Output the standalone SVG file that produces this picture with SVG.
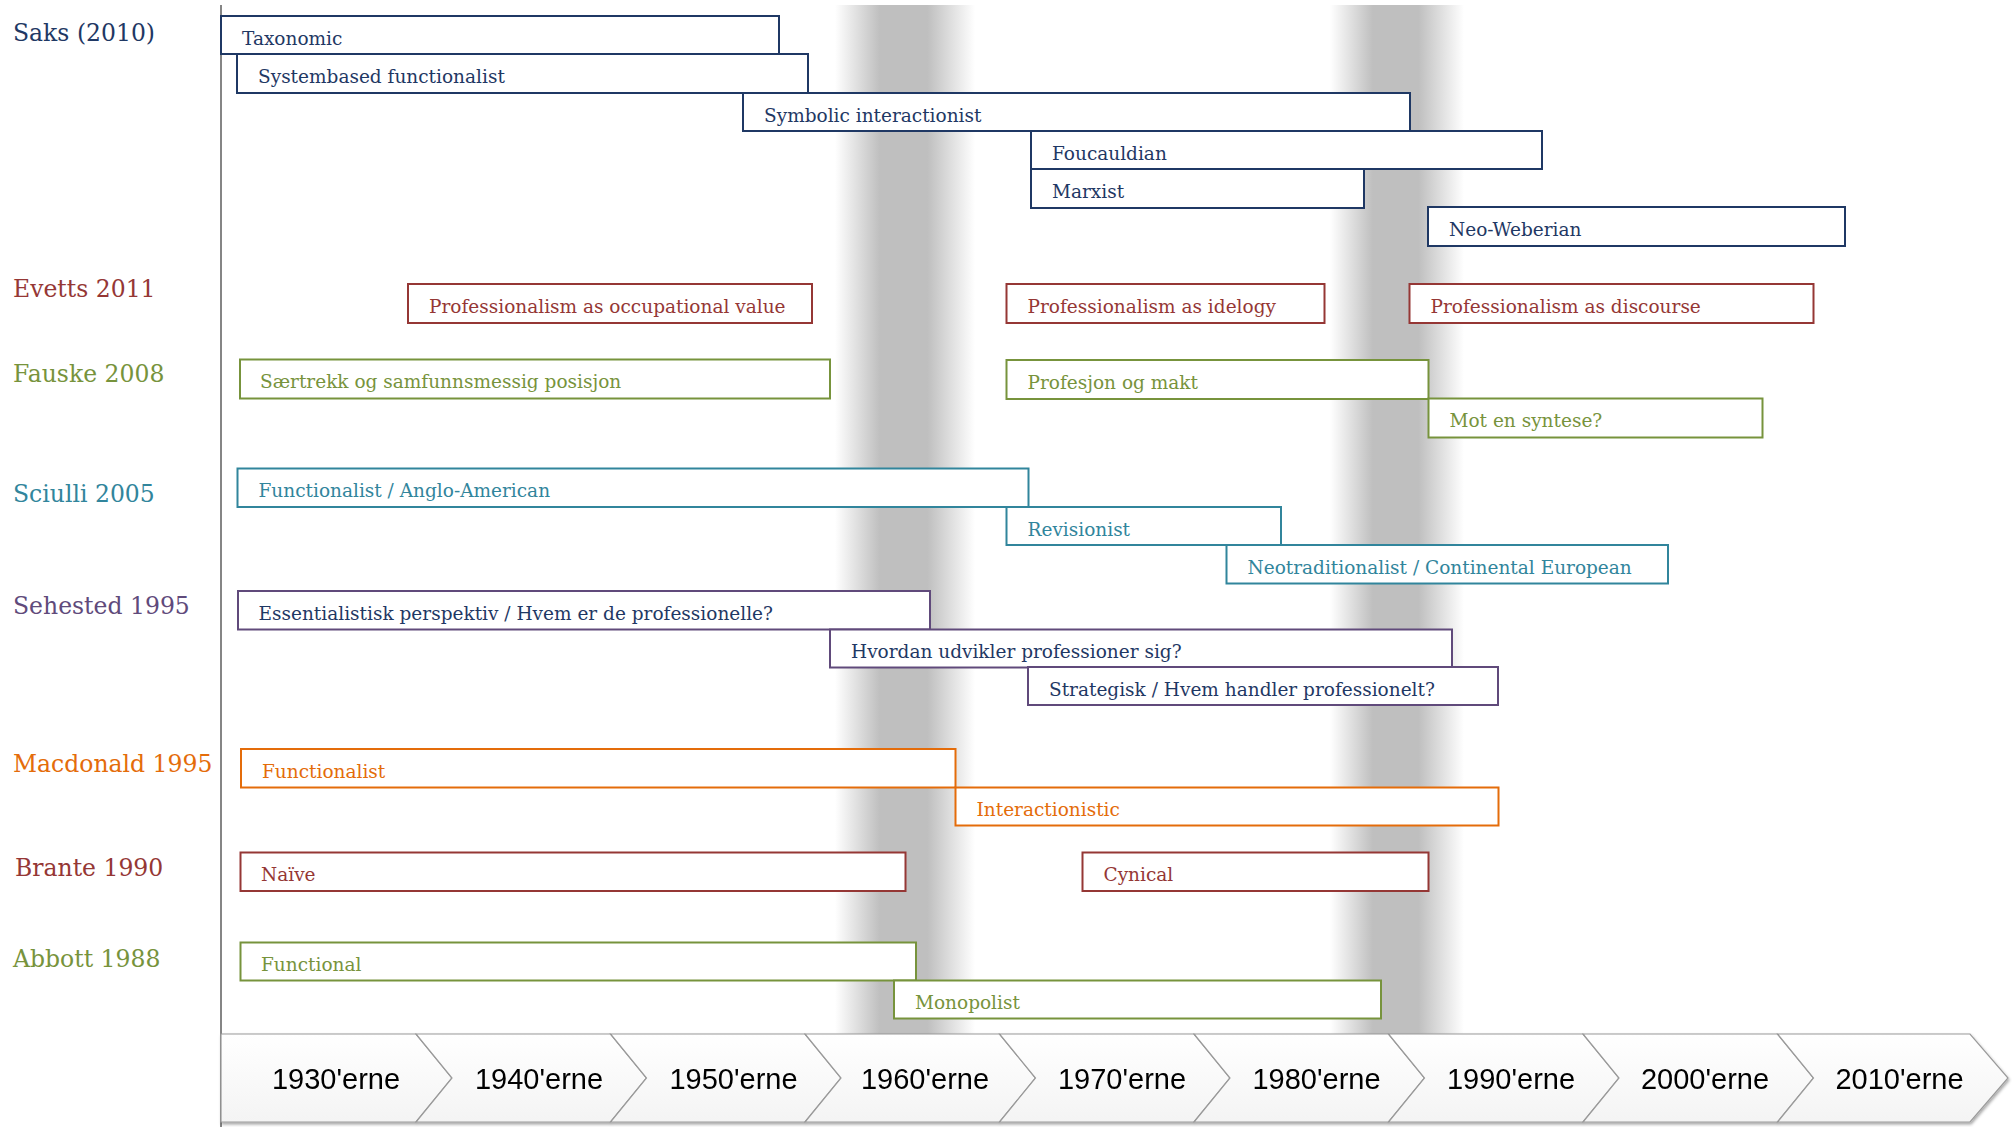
<svg xmlns="http://www.w3.org/2000/svg" width="2013" height="1127" viewBox="0 0 2013 1127">
<defs>
<linearGradient id="band" x1="0" y1="0" x2="1" y2="0">
<stop offset="0" stop-color="#BFBFBF" stop-opacity="0"/>
<stop offset="0.32" stop-color="#BFBFBF" stop-opacity="1"/>
<stop offset="0.66" stop-color="#BFBFBF" stop-opacity="1"/>
<stop offset="1" stop-color="#BFBFBF" stop-opacity="0"/>
</linearGradient>
<linearGradient id="chev" x1="0" y1="0" x2="0" y2="1">
<stop offset="0" stop-color="#FFFFFF"/>
<stop offset="1" stop-color="#F4F4F4"/>
</linearGradient>
<filter id="sh" x="-5%" y="-20%" width="110%" height="150%">
<feDropShadow dx="1" dy="2" stdDeviation="1.5" flood-color="#000" flood-opacity="0.35"/>
</filter>
</defs>
<style>
.lbl{font-family:"DejaVu Serif","Liberation Serif",serif;font-size:23.5px}
.bt{font-family:"DejaVu Serif","Liberation Serif",serif;font-size:18.5px}
.box{fill:#FFFFFF;stroke-width:2}
.navy{fill:#1F3864}.navyS{stroke:#1F3864}
.red{fill:#953735}.redS{stroke:#953735}
.grn{fill:#77933C}.grnS{stroke:#77933C}
.teal{fill:#31859C}.tealS{stroke:#31859C}
.pur{fill:#604A7B}.purS{stroke:#604A7B}
.org{fill:#E46C0A}.orgS{stroke:#E46C0A}
.chev{fill:url(#chev);stroke:#9A9A9A;stroke-width:1.2}
.yr{font-family:"Liberation Sans",Arial,sans-serif;font-size:29px;fill:#000;text-anchor:middle}
</style>
<rect x="0" y="0" width="2013" height="1127" fill="#FFFFFF"/>
<g id="bands">
<rect x="835" y="5" width="140" height="1030" fill="url(#band)"/>
<rect x="1330" y="5" width="134" height="1030" fill="url(#band)"/>
</g>
<g id="axis">
<line x1="221" y1="5" x2="221" y2="1127" stroke="#858585" stroke-width="2"/>
</g>
<g id="labels">
<text id="lbl-saks" class="lbl navy" x="13" y="40.5">Saks (2010)</text>
<text id="lbl-evetts" class="lbl red" x="13" y="296.5">Evetts 2011</text>
<text id="lbl-fauske" class="lbl grn" x="13" y="381.5">Fauske 2008</text>
<text id="lbl-sciulli" class="lbl teal" x="13" y="501.5">Sciulli 2005</text>
<text id="lbl-sehested" class="lbl pur" x="13" y="614">Sehested 1995</text>
<text id="lbl-macdonald" class="lbl org" x="13" y="771.5">Macdonald 1995</text>
<text id="lbl-brante" class="lbl red" x="15" y="875.5">Brante 1990</text>
<text id="lbl-abbott" class="lbl grn" x="13" y="967">Abbott 1988</text>
</g>
<g id="saks">
<g id="taxonomic"><rect class="box navyS" x="221" y="16" width="558" height="38"/><text class="bt navy" x="242" y="44.5">Taxonomic</text></g>
<g id="systembased"><rect class="box navyS" x="237" y="54" width="571" height="39"/><text class="bt navy" x="258" y="82.5">Systembased functionalist</text></g>
<g id="symbolic"><rect class="box navyS" x="743" y="93" width="667" height="38"/><text class="bt navy" x="764" y="121.5">Symbolic interactionist</text></g>
<g id="foucauldian"><rect class="box navyS" x="1031" y="131" width="511" height="38"/><text class="bt navy" x="1052" y="159.5">Foucauldian</text></g>
<g id="marxist"><rect class="box navyS" x="1031" y="169" width="333" height="39"/><text class="bt navy" x="1052" y="197.5">Marxist</text></g>
<g id="neoweberian"><rect class="box navyS" x="1428" y="207" width="417" height="39"/><text class="bt navy" x="1449" y="235.5">Neo-Weberian</text></g>
</g>
<g id="evetts">
<g id="occupational"><rect class="box redS" x="408" y="284" width="404" height="39"/><text class="bt red" x="429" y="312.5">Professionalism as occupational value</text></g>
<g id="ideology"><rect class="box redS" x="1006.5" y="284" width="318" height="39"/><text class="bt red" x="1027.5" y="312.5">Professionalism as idelogy</text></g>
<g id="discourse"><rect class="box redS" x="1409.5" y="284" width="404" height="39"/><text class="bt red" x="1430.5" y="312.5">Professionalism as discourse</text></g>
</g>
<g id="fauske">
<g id="saertrekk"><rect class="box grnS" x="240" y="359.5" width="590" height="39"/><text class="bt grn" x="260" y="388">Særtrekk og samfunnsmessig posisjon</text></g>
<g id="profesjon"><rect class="box grnS" x="1006.5" y="360" width="422" height="39"/><text class="bt grn" x="1027.5" y="388.5">Profesjon og makt</text></g>
<g id="syntese"><rect class="box grnS" x="1428.5" y="398.5" width="334" height="39"/><text class="bt grn" x="1449.5" y="427">Mot en syntese?</text></g>
</g>
<g id="sciulli">
<g id="anglo"><rect class="box tealS" x="237.5" y="468.5" width="791" height="38.5"/><text class="bt teal" x="258.5" y="497">Functionalist / Anglo-American</text></g>
<g id="revisionist"><rect class="box tealS" x="1006.5" y="507" width="274.5" height="38"/><text class="bt teal" x="1027.5" y="535.5">Revisionist</text></g>
<g id="neotraditionalist"><rect class="box tealS" x="1226.5" y="545" width="441.5" height="38.5"/><text class="bt teal" x="1247.5" y="573.5">Neotraditionalist / Continental European</text></g>
</g>
<g id="sehested">
<g id="essentialistisk"><rect class="box purS" x="238" y="591" width="692" height="38.5"/><text class="bt navy" x="258.5" y="619.5">Essentialistisk perspektiv / Hvem er de professionelle?</text></g>
<g id="hvordan"><rect class="box purS" x="830" y="629.5" width="622" height="38"/><text class="bt navy" x="851" y="658">Hvordan udvikler professioner sig?</text></g>
<g id="strategisk"><rect class="box purS" x="1028" y="667" width="470" height="38"/><text class="bt navy" x="1049" y="695.5">Strategisk / Hvem handler professionelt?</text></g>
</g>
<g id="macdonald">
<g id="m-functionalist"><rect class="box orgS" x="241" y="749" width="714.5" height="38.5"/><text class="bt org" x="262" y="777.5">Functionalist</text></g>
<g id="interactionistic"><rect class="box orgS" x="955.5" y="787.5" width="543" height="38"/><text class="bt org" x="976.5" y="816">Interactionistic</text></g>
</g>
<g id="brante">
<g id="naive"><rect class="box redS" x="240.5" y="852.5" width="665" height="38.5"/><text class="bt red" x="261" y="881">Naïve</text></g>
<g id="cynical"><rect class="box redS" x="1082.5" y="852.5" width="346" height="38.5"/><text class="bt red" x="1103.5" y="881">Cynical</text></g>
</g>
<g id="abbott">
<g id="functional"><rect class="box grnS" x="240.5" y="942.5" width="675.5" height="38"/><text class="bt grn" x="261" y="971">Functional</text></g>
<g id="monopolist"><rect class="box grnS" x="894" y="980.5" width="487" height="38"/><text class="bt grn" x="915" y="1009">Monopolist</text></g>
</g>
<g id="timeline" filter="url(#sh)">
<g id="d1930"><path class="chev" d="M221,1034 L416,1034 L452,1078 L416,1122 L221,1122 Z"/><text class="yr" x="336" y="1089">1930'erne</text></g>
<g id="d1940"><path class="chev" d="M416,1034 L610.5,1034 L646.5,1078 L610.5,1122 L416,1122 L452,1078 Z"/><text class="yr" x="539" y="1089">1940'erne</text></g>
<g id="d1950"><path class="chev" d="M610.5,1034 L805,1034 L841,1078 L805,1122 L610.5,1122 L646.5,1078 Z"/><text class="yr" x="733.5" y="1089">1950'erne</text></g>
<g id="d1960"><path class="chev" d="M805,1034 L999.5,1034 L1035.5,1078 L999.5,1122 L805,1122 L841,1078 Z"/><text class="yr" x="925" y="1089">1960'erne</text></g>
<g id="d1970"><path class="chev" d="M999.5,1034 L1194,1034 L1230,1078 L1194,1122 L999.5,1122 L1035.5,1078 Z"/><text class="yr" x="1122" y="1089">1970'erne</text></g>
<g id="d1980"><path class="chev" d="M1194,1034 L1388.5,1034 L1424.5,1078 L1388.5,1122 L1194,1122 L1230,1078 Z"/><text class="yr" x="1316.5" y="1089">1980'erne</text></g>
<g id="d1990"><path class="chev" d="M1388.5,1034 L1583,1034 L1619,1078 L1583,1122 L1388.5,1122 L1424.5,1078 Z"/><text class="yr" x="1511" y="1089">1990'erne</text></g>
<g id="d2000"><path class="chev" d="M1583,1034 L1777.5,1034 L1813.5,1078 L1777.5,1122 L1583,1122 L1619,1078 Z"/><text class="yr" x="1705" y="1089">2000'erne</text></g>
<g id="d2010"><path class="chev" d="M1777.5,1034 L1970,1034 L2008,1078 L1970,1122 L1777.5,1122 L1813.5,1078 Z"/><text class="yr" x="1899.5" y="1089">2010'erne</text></g>
</g>
</svg>
